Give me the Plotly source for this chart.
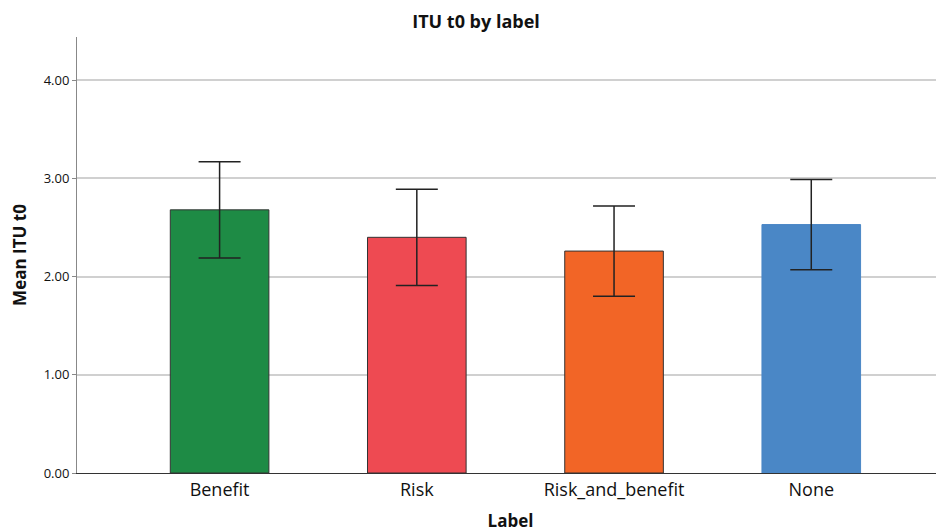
import plotly.graph_objects as go

categories = ["Benefit", "Risk", "Risk_and_benefit", "None"]
means = [2.68, 2.40, 2.26, 2.53]
err_upper = [0.49, 0.49, 0.46, 0.46]
err_lower = [0.49, 0.49, 0.46, 0.46]
colors = ["#1e8b45", "#ee4a52", "#f26526", "#4a87c6"]
line_colors = ["#333333", "#333333", "#333333", "#4a87c6"]

FONT = "Open Sans, sans-serif"

fig = go.Figure()
fig.add_trace(go.Bar(
    x=categories, y=means, width=0.5,
    marker=dict(color=colors, line=dict(color=line_colors, width=1)),
    error_y=dict(type="data", symmetric=False, array=err_upper, arrayminus=err_lower,
                 color="#222222", thickness=1.5, width=21),
    showlegend=False,
))

fig.update_layout(
    width=936, height=524,
    margin=dict(l=69, r=0, t=29, b=59),
    paper_bgcolor="white", plot_bgcolor="white",
    font=dict(family=FONT, color="#111111"),
    title=dict(text="<b>ITU t0 by label</b>", x=0.5, xanchor="center", y=1 - 14 / 524, yanchor="middle",
               font=dict(size=18, family=FONT)),
    xaxis=dict(
        range=[-0.723, 3.673], showgrid=False,
        showline=True, linecolor="#333333", linewidth=1,
        tickfont=dict(size=18, family=FONT),
        title=dict(text="<b>Label</b>", font=dict(size=17, family=FONT), standoff=16),
        ticks="", fixedrange=True,
    ),
    yaxis=dict(
        range=[0, 4.44], tickvals=[0, 1, 2, 3, 4], ticktext=["0.00", "1.00", "2.00", "3.00", "4.00"],
        showgrid=True, gridcolor="#d0d0d0", gridwidth=2,
        showline=True, linecolor="#888888", linewidth=1,
        ticks="outside", ticklen=4, tickcolor="#888888",
        tickfont=dict(size=13, family=FONT),
        title=dict(text="<b>Mean ITU t0</b>", font=dict(size=17, family=FONT), standoff=14),
        zeroline=False,
    ),
)

fig.write_html("out.html")
